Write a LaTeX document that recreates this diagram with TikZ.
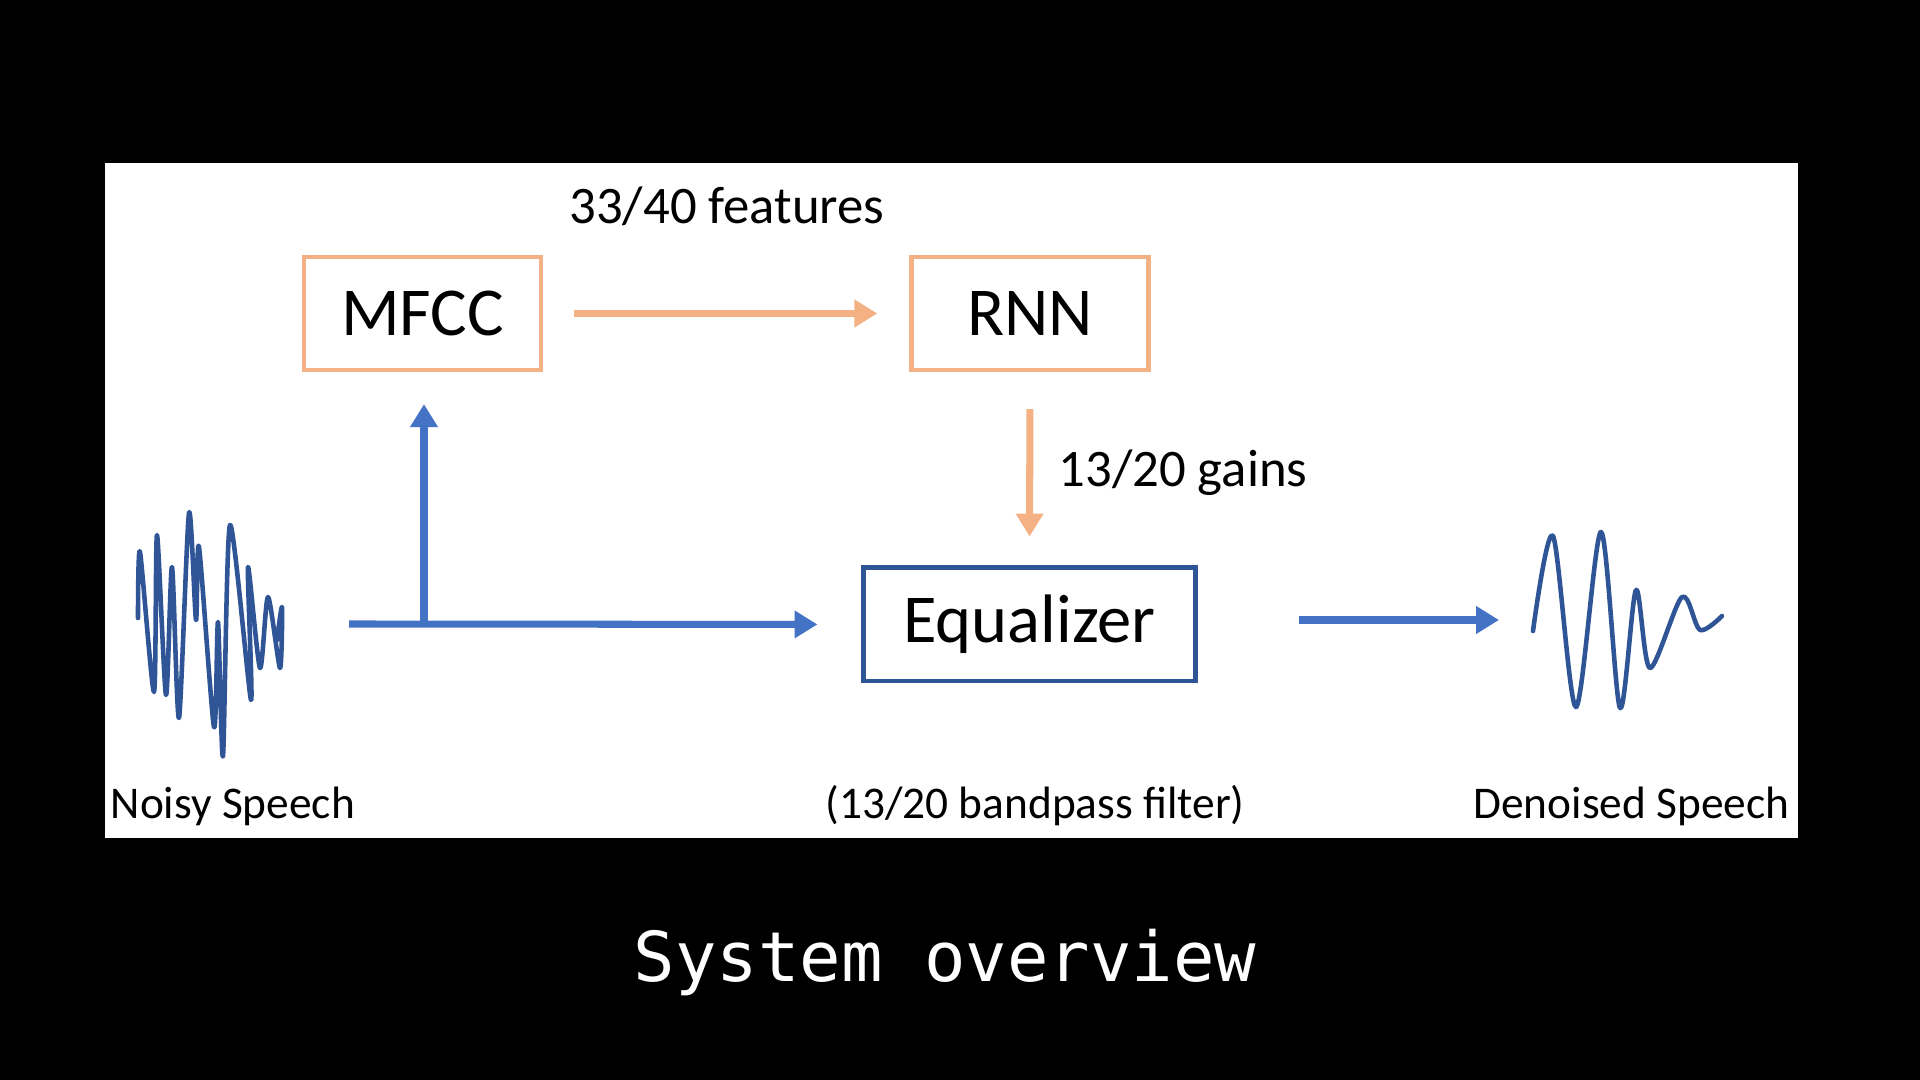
\documentclass[tikz,border=0pt]{standalone}
\usepackage{fontspec}
\setmainfont{Carlito}
\newfontfamily\titlefont{DejaVu Sans Mono}
\usetikzlibrary{arrows.meta}
\definecolor{peach}{HTML}{F4B183}
\definecolor{lblue}{HTML}{4472C4}
\definecolor{dblue}{HTML}{2F5597}
\tikzset{
  obox/.style={draw=peach,line width=1.2pt,minimum width=2.37cm,minimum height=1.13cm,inner sep=0pt,font=\fontsize{19.5}{23}\selectfont},
  bbox/.style={draw=dblue,line width=1.4pt,minimum width=3.31cm,minimum height=1.13cm,inner sep=0pt,font=\fontsize{19.5}{23}\selectfont},
  oarrow/.style={draw=peach,line width=2pt,-{Triangle[length=6.5pt,width=7.5pt]}},
  barrow/.style={draw=lblue,line width=2pt,-{Triangle[length=6.5pt,width=7.5pt]}},
  wave/.style={draw=dblue,line width=1.3pt,line join=round,line cap=round},
  lbl/.style={font=\fontsize{15}{18}\selectfont,inner sep=0pt},
  small/.style={font=\fontsize{12.9}{15}\selectfont,inner sep=0pt}
}
\begin{document}
\begin{tikzpicture}[x=0.01cm,y=-0.01cm]
\fill[black] (0,0) rectangle (1920,1080);
\useasboundingbox (0,0) rectangle (1920,1080);
\fill[white] (105,163) rectangle (1798,838);

\node[obox] (mfcc) at (422.5,313.5) {MFCC};
\node[obox] (rnn) at (1030,313.5) {RNN};
\node[bbox] (eq) at (1029.5,624.5) {Equalizer};

\node[lbl] (feat) at (727,206) {33/40 features};
\node[lbl,anchor=west] (gains) at (1058,473) {13/20 gains};

\coordinate (in) at (349,624);
\coordinate (out) at (1499,620);
\coordinate (branch) at (424,624);

\draw[oarrow,shorten <=0.31cm,shorten >=0.32cm] (mfcc.east) -- (rnn.west);
\draw[oarrow,shorten <=0.37cm,shorten >=0.29cm] (rnn.south) -- (eq.north);
\draw[barrow,shorten >=0.44cm] (in) -- (eq.west);
\draw[barrow,shorten >=0.32cm] (branch) -- (branch |- mfcc.south);
\draw[barrow,shorten <=1.01cm] (eq.east |- out) -- (out);

% noisy waveform
\draw[wave] plot[smooth,tension=0.45] coordinates {
(138,618) (140,552) (154,692) (157,535) (166,695) (172,567) (179,718)
(189,513) (196,620) (199,547) (214,727) (218,622) (223,756) (230,525)
(251,700) (248,567) (260,668) (268,597) (280,668) (282,607) (277,640)};

% denoised waveform
\draw[wave] plot[smooth,tension=0.5] coordinates {
(1533,631) (1553,536) (1576,707) (1601,532) (1620,708) (1636,590)
(1650,668) (1682,597) (1700,630) (1722,616)};

\node[small,anchor=west] (noisy) at (110,806) {Noisy Speech};
\node[small] (bp) at (1035,806) {(13/20 bandpass filter)};
\node[small,anchor=east] (den) at (1790,806) {Denoised Speech};

\node[text=white,font=\titlefont\fontsize{19.6}{24}\selectfont] (title) at (945,962) {System overview};
\end{tikzpicture}
\end{document}
